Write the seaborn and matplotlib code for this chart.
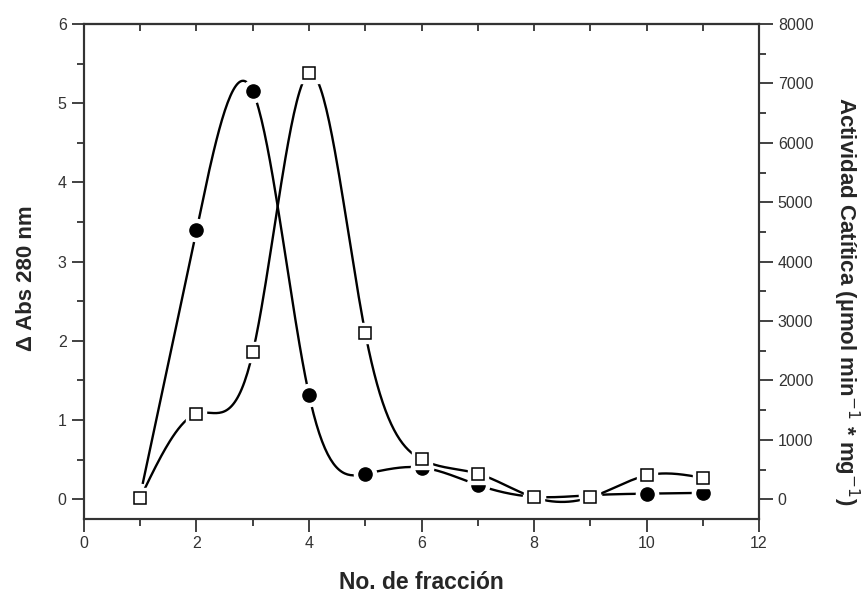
import numpy as np
import pandas as pd
import seaborn as sns
import matplotlib.pyplot as plt
from matplotlib.ticker import MultipleLocator

# datos
fraccion = [1, 2, 3, 4, 5, 6, 7, 8, 9, 10, 11]
abs_280 = [0.05, 3.40, 5.15, 1.32, 0.32, 0.40, 0.18, 0.03, 0.05, 0.07, 0.08]
actividad = [20, 1440, 2470, 7170, 2800, 670, 430, 30, 30, 400, 360]


def spline(x, y, n=400):
  # spline cubico natural, como la linea suavizada del original
  x = np.asarray(x, float)
  y = np.asarray(y, float)
  k = len(x)
  h = np.diff(x)
  A = np.zeros((k, k))
  b = np.zeros(k)
  A[0, 0] = A[-1, -1] = 1
  for i in range(1, k - 1):
    A[i, i - 1] = h[i - 1]
    A[i, i] = 2 * (h[i - 1] + h[i])
    A[i, i + 1] = h[i]
    b[i] = 6 * ((y[i + 1] - y[i]) / h[i] - (y[i] - y[i - 1]) / h[i - 1])
  M = np.linalg.solve(A, b)
  xs = np.linspace(x[0], x[-1], n)
  idx = np.clip(np.searchsorted(x, xs) - 1, 0, k - 2)
  x0, x1 = x[idx], x[idx + 1]
  hh = x1 - x0
  ys = (M[idx] * (x1 - xs) ** 3 / (6 * hh) + M[idx + 1] * (xs - x0) ** 3 / (6 * hh)
        + (y[idx] / hh - M[idx] * hh / 6) * (x1 - xs)
        + (y[idx + 1] / hh - M[idx + 1] * hh / 6) * (xs - x0))
  return pd.DataFrame({"x": xs, "y": ys})


sns.set_style("ticks")
plt.rcParams["font.family"] = ["Liberation Sans", "DejaVu Sans"]

fig = plt.figure(figsize=(8.65, 5.93), dpi=100)
ax = fig.add_axes([0.0971, 0.1248, 0.7804, 0.8347])
ax2 = ax.twinx()

# curva de absorbancia (circulos llenos)
sns.lineplot(data=spline(fraccion, abs_280), x="x", y="y", ax=ax,
             color="black", lw=1.7, zorder=2)
ax.plot(fraccion, abs_280, "o", ms=16, color="white", zorder=3)
ax.plot(fraccion, abs_280, "o", ms=9.5, color="black", zorder=4)

# curva de actividad (cuadros abiertos)
sns.lineplot(data=spline(fraccion, actividad), x="x", y="y", ax=ax2,
             color="black", lw=1.7, zorder=2)
ax2.plot(fraccion, actividad, "s", ms=15, color="white", zorder=3)
ax2.plot(fraccion, actividad, "s", ms=8.5, mfc="white", mec="black", mew=1.1, zorder=4)

ax.set_xlim(0, 12)
ax.set_ylim(-0.25, 6)
ax2.set_ylim(-333, 8000)

ax.xaxis.set_major_locator(MultipleLocator(2))
ax.xaxis.set_minor_locator(MultipleLocator(1))
ax.yaxis.set_major_locator(MultipleLocator(1))
ax.yaxis.set_minor_locator(MultipleLocator(0.5))
ax2.yaxis.set_major_locator(MultipleLocator(1000))
ax2.yaxis.set_minor_locator(MultipleLocator(500))

ax.tick_params(which="major", direction="out", length=9, width=1.3, labelsize=11.5, color="#333333", labelcolor="#333333")
ax.tick_params(which="minor", direction="out", length=5, width=1.3, color="#333333")
ax2.tick_params(which="major", direction="out", length=10, width=1.3, labelsize=11.5, color="#333333", labelcolor="#333333")
ax2.tick_params(which="minor", direction="out", length=5, width=1.3, color="#333333")

top = ax.secondary_xaxis("top")
top.xaxis.set_major_locator(MultipleLocator(1))
top.tick_params(direction="in", length=5, width=1.3, labeltop=False, color="#333333")

for a in (ax, ax2):
  for s in a.spines.values():
    s.set_visible(True)
    s.set_linewidth(1.5)
    s.set_color("#333333")
top.spines["top"].set_linewidth(1.5)
top.spines["top"].set_color("#333333")

ax.set_xlabel("No. de fracción", fontsize=16.5, fontweight="bold", va="center")
ax.xaxis.set_label_coords(0.5, -0.128)
ax.set_ylabel("Δ Abs 280 nm", fontsize=16, fontweight="bold", va="center")
ax.yaxis.set_label_coords(-0.085, 0.487)
ax2.set_ylabel("Actividad Catítica (µmol min$^{-1}$ * mg$^{-1}$)", fontsize=16,
               fontweight="bold", rotation=270, va="center")
ax2.yaxis.set_label_coords(1.129, 0.44)

fig.savefig("out.png", dpi=100)
